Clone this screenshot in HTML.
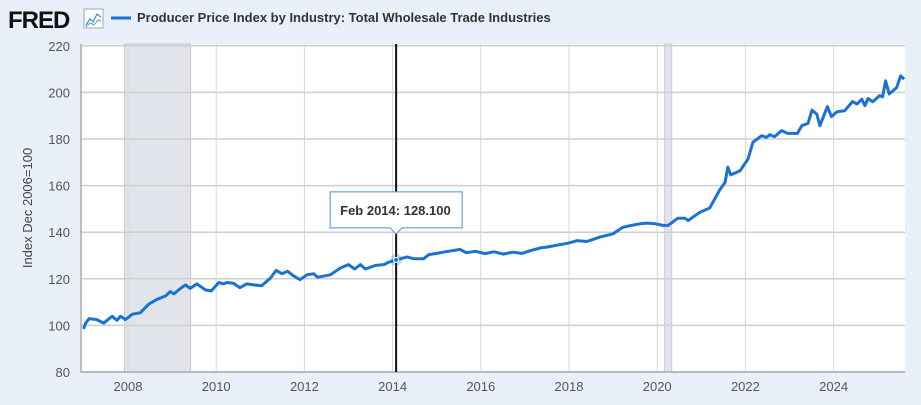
<!DOCTYPE html>
<html><head><meta charset="utf-8"><style>
body{margin:0;width:921px;height:405px;background:#e9f0f9;font-family:"Liberation Sans",sans-serif;overflow:hidden}
svg{position:absolute;left:0;top:0}
</style></head><body>
<svg width="921" height="405">
<g id="hdr">
<text x="8" y="28" font-size="24" font-weight="bold" fill="#111" letter-spacing="-1">FRED</text>
<rect x="84" y="9" width="19" height="19" fill="#fff" stroke="#9ab" stroke-width="1"/>
<polyline points="86,25 90,19 93,22 97,14 101,17" fill="none" stroke="#3a8bd6" stroke-width="1.2"/>
<polyline points="86,27 90,23 94,25 98,20 101,21" fill="none" stroke="#5ab" stroke-width="1"/>
<line x1="111" y1="18" x2="131" y2="18" stroke="#1a73d0" stroke-width="3"/>
<text x="137" y="22" font-size="13" font-weight="bold" fill="#333">Producer Price Index by Industry: Total Wholesale Trade Industries</text>
</g>
<rect x="81" y="44" width="824" height="328" fill="#fff"/>
<g id="rec"></g><g id="grid"></g><g id="axes"></g><g id="series"></g><g id="hover"></g>
<text transform="translate(32,208) rotate(-90)" text-anchor="middle" font-size="13" fill="#444">Index Dec 2006=100</text>
</svg>
<script>
const yTicks=[80,100,120,140,160,180,200,220];
const xTicks=[2008,2010,2012,2014,2016,2018,2020,2022,2024];
const recessions=[[2007.92,2009.42],[2020.17,2020.33]];
const years=[2006.99,2007.04,2007.12,2007.29,2007.45,2007.64,2007.75,2007.83,2007.94,2008.1,2008.28,2008.47,2008.66,2008.85,2008.96,2009.04,2009.19,2009.3,2009.41,2009.56,2009.76,2009.89,2010.06,2010.17,2010.24,2010.39,2010.54,2010.69,2010.85,2011.03,2011.23,2011.36,2011.49,2011.62,2011.75,2011.9,2012.06,2012.21,2012.3,2012.47,2012.59,2012.81,2013.0,2013.14,2013.27,2013.38,2013.61,2013.8,2013.92,2014.08,2014.33,2014.48,2014.7,2014.82,2015.0,2015.15,2015.53,2015.67,2015.88,2016.09,2016.3,2016.51,2016.72,2016.93,2017.14,2017.35,2017.56,2017.77,2017.98,2018.19,2018.4,2018.56,2018.7,2019.0,2019.22,2019.42,2019.61,2019.77,2019.96,2020.13,2020.25,2020.47,2020.63,2020.7,2020.97,2021.19,2021.41,2021.54,2021.6,2021.67,2021.88,2022.06,2022.17,2022.37,2022.48,2022.55,2022.66,2022.82,2022.96,2023.18,2023.28,2023.42,2023.51,2023.62,2023.69,2023.86,2023.95,2024.08,2024.25,2024.43,2024.53,2024.64,2024.71,2024.78,2024.89,2025.04,2025.11,2025.18,2025.26,2025.43,2025.52,2025.6];
const values=[98.5,101,102.9,102.5,101,103.9,102.2,103.9,102.5,104.8,105.4,109.1,111.2,112.6,114.5,113.5,115.9,117.4,115.9,117.8,115.2,114.8,118.4,117.8,118.4,118.1,116.2,117.8,117.4,117,120.3,123.6,122.2,123.2,121.3,119.6,121.7,122.2,120.7,121.3,121.7,124.6,126.1,124.2,126.1,124.2,125.7,126.1,127.2,128.1,129.4,128.6,128.6,130.4,130.9,131.4,132.6,131.2,131.8,130.8,131.6,130.6,131.4,130.9,132.2,133.2,133.8,134.6,135.3,136.4,136.0,137.0,137.9,139.3,142.1,142.9,143.6,143.9,143.6,142.9,142.9,146,146,145,148.6,150.4,157.9,161.4,167.9,164.6,166.4,171.4,178.6,181.4,180.7,181.9,181,183.6,182.4,182.4,185.7,186.7,192.4,190.7,185.7,193.9,189.6,191.7,192.1,196.1,195,197.1,194.3,197.4,196,198.6,198.1,205,199.3,202.1,207.1,205.7];
const hoverYear=2014.08, hoverVal=128.1, hoverLabel="Feb 2014:";
const X0=81,X1=905,Y0=44,Y1=372;
const xs=y=>128+(y-2008)*44.1;
const ys=v=>372-(v-80)*2.33;
const NS="http://www.w3.org/2000/svg";
function mk(t,a,p){const e=document.createElementNS(NS,t);for(const k in a)e.setAttribute(k,a[k]);p.appendChild(e);return e;}
const rec=document.getElementById('rec'),grid=document.getElementById('grid'),axes=document.getElementById('axes'),ser=document.getElementById('series'),hov=document.getElementById('hover');
recessions.forEach(r=>{const e=mk('rect',{x:xs(r[0]),y:Y0,width:xs(r[1])-xs(r[0]),height:Y1-Y0,fill:'#e1e5eb',stroke:'#c8c8c8','stroke-width':1},rec);

});
yTicks.forEach(v=>{const l=mk('line',{x1:X0,x2:X1,y1:ys(v),y2:ys(v),stroke:'#cfcfcf','stroke-width':1.5},grid);


const t=mk('text',{x:70,y:ys(v)+5,'text-anchor':'end','font-size':13,fill:'#555'},axes);t.textContent=v;

});
xTicks.forEach(y=>{const l=mk('line',{x1:xs(y),x2:xs(y),y1:Y0,y2:Y1,stroke:'#d6d6d6','stroke-width':1},grid);


const t=mk('text',{x:xs(y),y:391,'text-anchor':'middle','font-size':13,fill:'#555'},axes);t.textContent=y;

});
const ax=mk('path',{d:`M${X0},${Y0}V${Y1}H${X1}`,fill:'none',stroke:'#aab','stroke-width':1.5},axes);


const vl=mk('line',{x1:xs(hoverYear),x2:xs(hoverYear),y1:Y0,y2:Y1,stroke:'#111','stroke-width':2},hov);


const ln=mk('polyline',{points:years.map((y,i)=>xs(y).toFixed(1)+','+ys(values[i]).toFixed(1)).join(' '),fill:'none',stroke:'#1a73d0','stroke-width':3,'stroke-linejoin':'round'},ser);


const hx=xs(hoverYear),hy=ys(hoverVal);
const halo=mk('circle',{cx:hx,cy:hy,r:6,fill:'rgba(26,115,208,0.25)'},hov);


const dot=mk('circle',{cx:hx,cy:hy,r:2.5,fill:'#1a73d0',stroke:'#fff','stroke-width':1},hov);


const tb=mk('path',{d:`M${hx-66},${hy-68}h132v36h-60l-6,6l-6,-6h-60z`,fill:'#fff',stroke:'#4a90d9','stroke-width':1},hov);


const tt=mk('text',{x:hx-56,y:hy-45,'font-size':13,'font-weight':'bold',fill:'#333'},hov);
tt.textContent=hoverLabel+"  "+hoverVal.toFixed(3);


</script>
</body></html>
